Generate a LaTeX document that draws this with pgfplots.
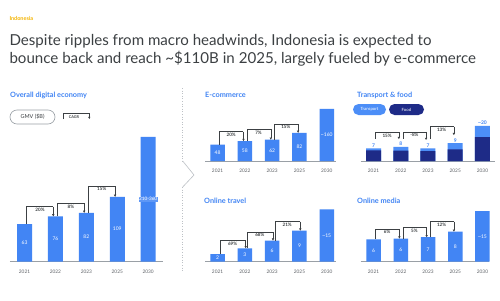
\documentclass[border=0pt]{standalone}
\usepackage{pgfplots}
\pgfplotsset{compat=1.18}
\usepackage{fontspec}
\setmainfont{Lato}
\usetikzlibrary{arrows.meta}
\definecolor{gblue}{HTML}{4285F4}
\definecolor{tblue}{HTML}{4C8EF7}
\definecolor{navy}{HTML}{1E2B87}
\definecolor{tgray}{HTML}{3C4043}
\definecolor{lgray}{HTML}{5F6368}
\definecolor{agray}{HTML}{9AA0A6}
\definecolor{sgray}{HTML}{BDC1C6}
\definecolor{orng}{HTML}{F4B400}
\tikzset{
  br/.style={draw=tgray, line width=0.5pt},
  bra/.style={draw=tgray, line width=0.5pt, -{Triangle[length=2.2pt,width=2.2pt]}},
}
\pgfplotsset{
  panel/.style={
    scale only axis, anchor=south west, ymin=0,
    hide y axis, axis x line*=bottom,
    x axis line style={agray, line width=0.8pt, -},
    xtick={0,...,4}, xticklabels={2021,2022,2023,2025,2030},
    xtick style={draw=none},
    xticklabel style={font=\fontsize{4.8}{5}\selectfont, text=lgray, yshift=-4.5pt},
    clip=false,
  },
  barlab/.style={draw=none, mark=none, nodes near coords, point meta=explicit symbolic,
     every node near coord/.append style={anchor=center, text=white, font=\fontsize{5}{5}\selectfont, inner sep=0pt}},
  cagrlab/.style={draw=none, mark=none, nodes near coords, point meta=explicit symbolic,
     every node near coord/.append style={anchor=north, text=tgray, font=\bfseries\fontsize{4.6}{5}\selectfont, inner sep=1.3pt}},
}
\newcommand\ptitle{\bfseries\fontsize{7.3}{8}\selectfont}
\begin{document}
\begin{tikzpicture}
\path[use as bounding box] (0pt,0pt) rectangle (500pt,-300pt);
\fill[white] (0pt,0pt) rectangle (500pt,-300pt);
% header
\node[anchor=base west, inner sep=0pt, text=orng, font=\bfseries\fontsize{5.5}{6}\selectfont] at (9.3pt,-20.3pt) {Indonesia};
\node[anchor=base west, inner sep=0pt, text=tgray, font=\fontsize{15.1}{18}\selectfont] at (9.3pt,-45.7pt) {Despite ripples from macro headwinds, Indonesia is expected to};
\node[anchor=base west, inner sep=0pt, text=tgray, font=\fontsize{15.1}{18}\selectfont] at (9.3pt,-63.3pt) {bounce back and reach \textasciitilde\$110B in 2025, largely fueled by e-commerce};
% panel titles
\node[anchor=west, inner sep=0pt, text=gblue, font=\ptitle] at (10pt,-95pt) {Overall digital economy};
\node[anchor=west, inner sep=0pt, text=gblue, font=\ptitle] at (205pt,-95pt) {E-commerce};
\node[anchor=west, inner sep=0pt, text=gblue, font=\ptitle] at (357pt,-95pt) {Transport \& food};
\node[anchor=west, inner sep=0pt, text=gblue, font=\ptitle] at (204pt,-201pt) {Online travel};
\node[anchor=west, inner sep=0pt, text=gblue, font=\ptitle] at (357pt,-201pt) {Online media};
% GMV pill and CAGR key
\node[draw=agray, line width=0.6pt, rounded corners=7pt, minimum width=45pt, minimum height=14pt, inner sep=0pt, text=tgray, font=\fontsize{5.5}{6}\selectfont] at (32.5pt,-117pt) {GMV (\$B)};
\draw[br] (63.3pt,-119pt) -- (63.3pt,-113.3pt) -- (89.3pt,-113.3pt);
\draw[bra] (89.3pt,-113.3pt) -- (89.3pt,-119pt);
\node[inner sep=0pt, text=tgray, font=\bfseries\fontsize{3.8}{4}\selectfont] at (74pt,-117.3pt) {CAGR};
% transport / food legend
\node[fill=tblue, rounded corners=5.5pt, minimum width=33pt, minimum height=11pt, inner sep=0pt, text=white, font=\fontsize{4.3}{5}\selectfont] at (369.5pt,-109.5pt) {Transport};
\node[fill=navy, rounded corners=5.5pt, minimum width=35pt, minimum height=11pt, inner sep=0pt, text=white, font=\fontsize{4.3}{5}\selectfont] at (406.5pt,-109.5pt) {Food};
% separator
\draw[sgray, line width=0.6pt, dotted] (182.7pt,-88pt) -- (182.7pt,-161pt);
\draw[sgray, line width=0.6pt] (182.7pt,-161pt) -- (194pt,-175pt) -- (182.7pt,-187pt);
\draw[sgray, line width=0.6pt, dotted] (182.7pt,-187pt) -- (182.7pt,-272pt);

% ---------- Overall digital economy ----------
\begin{axis}[panel, at={(10pt,-261.5pt)}, width=153pt, height=150pt, xmin=-0.47, xmax=4.48, ymax=253]
\addplot[ybar, bar width=15pt, fill=gblue, draw=none] coordinates {(0,63) (1,76) (2,82) (3,109) (4,210)};
\addplot[barlab] coordinates {(0,31.5)[63] (1,38)[76] (2,41)[82] (3,54.5)[109]};
\addplot[barlab, every node near coord/.append style={fill=gblue!85!white, inner sep=0.6pt, font=\fontsize{4.7}{5}\selectfont}] coordinates {(4,105)[210-360]};
\addplot[cagrlab] coordinates {(0.5,92.4)[20\%] (1.5,98)[8\%] (2.5,127.3)[15\%]};
\draw[br] (axis cs:0.07,63) |- (axis cs:0.93,92.4);
\draw[bra] (axis cs:0.93,92.4) -- (axis cs:0.93,76);
\draw[br] (axis cs:1.07,76) |- (axis cs:1.93,98);
\draw[bra] (axis cs:1.93,98) -- (axis cs:1.93,82);
\draw[br] (axis cs:2.07,82) |- (axis cs:2.93,127.3);
\draw[bra] (axis cs:2.93,127.3) -- (axis cs:2.93,109);
\end{axis}

% ---------- E-commerce ----------
\begin{axis}[panel, at={(205pt,-161pt)}, width=130.5pt, height=60pt, xmin=-0.46, xmax=4.32, ymax=175]
\addplot[ybar, bar width=14.5pt, fill=gblue, draw=none] coordinates {(0,48) (1,58) (2,62) (3,82) (4,152)};
\addplot[barlab] coordinates {(0,24)[48] (1,29)[58] (2,31)[62] (3,41)[82] (4,76)[\textasciitilde160]};
\addplot[cagrlab] coordinates {(0.5,85.4)[20\%] (1.5,92.4)[7\%] (2.5,107.9)[15\%]};
\draw[br] (axis cs:0.08,48) |- (axis cs:0.95,85.4);
\draw[bra] (axis cs:0.95,85.4) -- (axis cs:0.95,58);
\draw[br] (axis cs:1.08,58) |- (axis cs:1.95,92.4);
\draw[bra] (axis cs:1.95,92.4) -- (axis cs:1.95,62);
\draw[br] (axis cs:2.08,62) |- (axis cs:2.95,107.9);
\draw[bra] (axis cs:2.95,107.9) -- (axis cs:2.95,82);
\end{axis}

% ---------- Transport & food ----------
\begin{axis}[panel, at={(360.7pt,-161pt)}, width=134.3pt, height=60pt, xmin=-0.47, xmax=4.46, ymax=33.7]
\addplot[ybar, bar width=15pt, fill=tblue, draw=none, nodes near coords, point meta=explicit symbolic,
  every node near coord/.append style={anchor=south, text=gblue, font=\bfseries\fontsize{5}{5}\selectfont, inner sep=1pt}]
  coordinates {(0,7.1)[7] (1,8.0)[8] (2,7.1)[7] (3,10.0)[9] (4,19.8)[\textasciitilde20]};
\addplot[ybar, bar width=15pt, fill=navy, draw=none] coordinates {(0,6.0) (1,5.8) (2,5.6) (3,6.5) (4,13.4)};
\addplot[cagrlab] coordinates {(0.5,16.1)[15\%] (1.5,16.3)[-8\%] (2.5,19.3)[13\%]};
\draw[br] (axis cs:0.08,12.6) |- (axis cs:0.93,16.1);
\draw[bra] (axis cs:0.93,16.1) -- (axis cs:0.93,12.3);
\draw[br] (axis cs:1.08,12.6) |- (axis cs:1.93,16.3);
\draw[bra] (axis cs:1.93,16.3) -- (axis cs:1.93,11.8);
\draw[br] (axis cs:2.08,12.6) |- (axis cs:2.95,19.3);
\draw[bra] (axis cs:2.95,19.3) -- (axis cs:2.95,14.5);
\end{axis}

% ---------- Online travel ----------
\begin{axis}[panel, at={(205pt,-261.7pt)}, width=130.5pt, height=60pt, xmin=-0.46, xmax=4.32, ymax=17.4]
\addplot[ybar, bar width=14.5pt, fill=gblue, draw=none] coordinates {(0,2.2) (1,3.9) (2,6.1) (3,9.0) (4,15.2)};
\addplot[barlab] coordinates {(0,1.1)[2] (1,1.95)[3] (2,3.05)[6] (3,4.5)[9] (4,7.6)[\textasciitilde15]};
\addplot[cagrlab] coordinates {(0.55,6.1)[69\%] (1.55,8.6)[68\%] (2.55,11.6)[21\%]};
\draw[br] (axis cs:0.1,2.2) |- (axis cs:1.03,6.1);
\draw[bra] (axis cs:1.03,6.1) -- (axis cs:1.03,3.9);
\draw[br] (axis cs:1.1,3.9) |- (axis cs:2.03,8.6);
\draw[bra] (axis cs:2.03,8.6) -- (axis cs:2.03,6.1);
\draw[br] (axis cs:2.1,6.1) |- (axis cs:3.03,11.6);
\draw[bra] (axis cs:3.03,11.6) -- (axis cs:3.03,9.0);
\end{axis}

% ---------- Online media ----------
\begin{axis}[panel, at={(360.7pt,-261.7pt)}, width=128.6pt, height=60pt, xmin=-0.47, xmax=4.25, ymax=17.4]
\addplot[ybar, bar width=14.5pt, fill=gblue, draw=none] coordinates {(0,6.5) (1,6.7) (2,7.1) (3,8.7) (4,14.7)};
\addplot[barlab] coordinates {(0,3.25)[6] (1,3.35)[6] (2,3.55)[7] (3,4.35)[8] (4,7.35)[\textasciitilde15]};
\addplot[cagrlab] coordinates {(0.5,9.5)[6\%] (1.5,10.0)[5\%] (2.5,11.6)[12\%]};
\draw[br] (axis cs:0.08,6.5) |- (axis cs:0.95,9.5);
\draw[bra] (axis cs:0.95,9.5) -- (axis cs:0.95,6.7);
\draw[br] (axis cs:1.08,6.7) |- (axis cs:1.95,10.0);
\draw[bra] (axis cs:1.95,10.0) -- (axis cs:1.95,7.1);
\draw[br] (axis cs:2.08,7.1) |- (axis cs:2.95,11.6);
\draw[bra] (axis cs:2.95,11.6) -- (axis cs:2.95,8.7);
\end{axis}
\end{tikzpicture}
\end{document}
